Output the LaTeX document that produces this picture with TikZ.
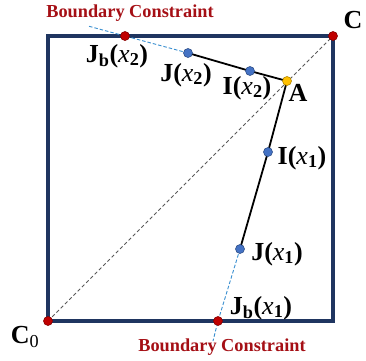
\documentclass[tikz,border=0pt]{standalone}
\usepackage{fontspec}
\setmainfont{Liberation Serif}
\usepackage{xcolor}
\usetikzlibrary{positioning, backgrounds}

\definecolor{boxnavy}{HTML}{1F3560}
\definecolor{ptred}{HTML}{C00000}
\definecolor{ptblue}{HTML}{4472C4}
\definecolor{ptyellow}{HTML}{FFC000}
\definecolor{bcred}{HTML}{A50F15}
\definecolor{guide}{HTML}{3A8FD0}

\begin{document}
\begin{tikzpicture}[
    x=1pt, y=-1pt,
    dot/.style={circle, inner sep=0pt, minimum size=9pt, draw=#1!70!black, fill=#1, line width=0.6pt},
    lbl/.style={font=\fontsize{26}{28}\selectfont, inner sep=0pt},
    bclabel/.style={font=\fontsize{18.3}{20}\bfseries\selectfont, text=bcred, inner sep=0pt},
    path/.style={line width=1.8pt, black},
    guideline/.style={guide, line width=0.9pt, dash pattern=on 3.5pt off 2pt},
    diag/.style={gray!70!black, line width=0.9pt, dash pattern=on 3.5pt off 2.5pt}
]
    \useasboundingbox (0,0) rectangle (366,360);

    % Corner and boundary points
    \node[dot=ptred] (c0) at (48,321) {};
    \node[dot=ptred] (c) at (333,36) {};
    \node[dot=ptred] (jbx2) at (125,36) {};
    \node[dot=ptred] (jbx1) at (218,321) {};

    % Interior points
    \node[dot=ptblue] (jx2) at (188,53) {};
    \node[dot=ptblue] (ix2) at (250,71) {};
    \node[dot=ptyellow] (a) at (287,81) {};
    \node[dot=ptblue] (ix1) at (268,152) {};
    \node[dot=ptblue] (jx1) at (240,249) {};

    % Free ends of the guide lines
    \coordinate (topend) at (88,26);
    \coordinate (botend) at (213,341);

    \begin{scope}[on background layer]
    % Design region
    \draw[boxnavy, line width=3.2pt] (c0.center) rectangle (c.center);
    % Diagonal C0 -- C
    \draw[diag] (c0.center) -- (c.center);
    % Guide lines to the boundary
    \draw[guideline] (jx2.center) -- (jbx2.center) -- (topend);
    \draw[guideline] (jx1.center) -- (jbx1.center) -- (botend);
    % Search paths
    \draw[path] (jx2.center) -- (ix2.center) -- (a.center);
    \draw[path] (a.center) -- (ix1.center) -- (jx1.center);
    \end{scope}

    % Labels
    \node[lbl] (lc) at (353,20) {\textbf{C}};
    \node[lbl] (lc0) at (25,337) {\textbf{C}\textsubscript{0}};
    \node[lbl] (ljbx2) at (117,56) {\textbf{J\textsubscript{b}(}\textit{x}\textbf{\textsubscript{2})}};
    \node[lbl] (ljx2) at (186,75) {\textbf{J(}\textit{x}\textbf{\textsubscript{2})}};
    \node[lbl] (lix2) at (247,88) {\textbf{I(}\textit{x}\textbf{\textsubscript{2})}};
    \node[lbl] (la) at (298,93) {\textbf{A}};
    \node[lbl] (lix1) at (302,158) {\textbf{I(}\textit{x}\textbf{\textsubscript{1})}};
    \node[lbl] (ljx1) at (277,254) {\textbf{J(}\textit{x}\textbf{\textsubscript{1})}};
    \node[lbl] (ljbx1) at (261,308) {\textbf{J\textsubscript{b}(}\textit{x}\textbf{\textsubscript{1})}};

    \node[bclabel] (bctop) at (130,13) {Boundary Constraint};
    \node[bclabel] (bcbot) at (222,347) {Boundary Constraint};
\end{tikzpicture}
\end{document}
